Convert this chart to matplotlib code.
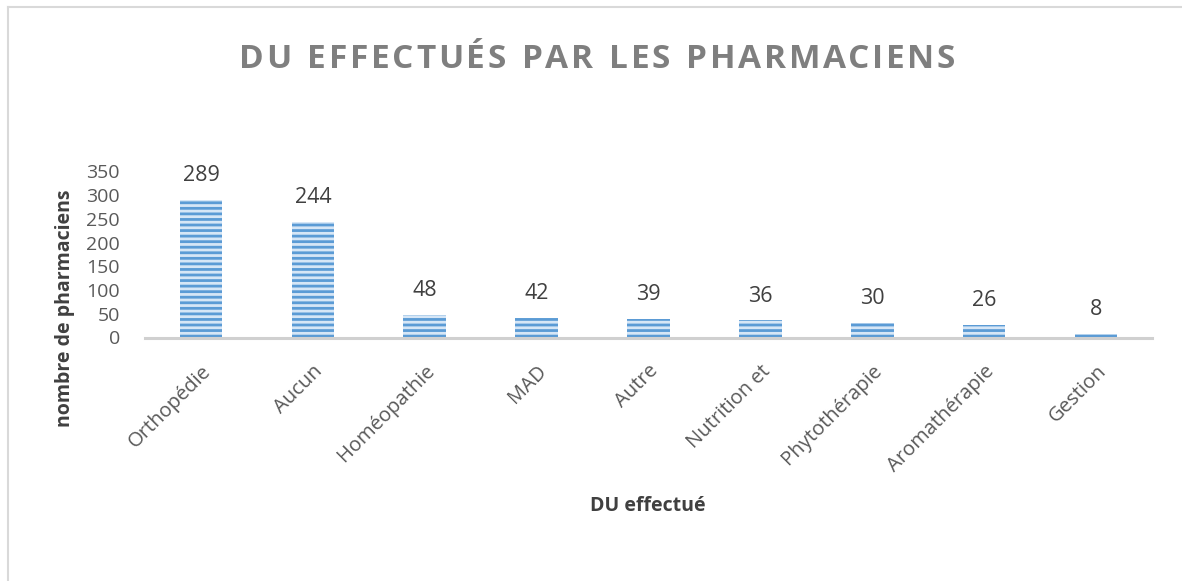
import matplotlib
matplotlib.use("Agg")
import matplotlib.pyplot as plt
from matplotlib.lines import Line2D

categories = ["Orthopédie", "Aucun", "Homéopathie", "MAD", "Autre",
              "Nutrition et", "Phytothérapie", "Aromathérapie", "Gestion"]
values = [289, 244, 48, 42, 39, 36, 30, 26, 8]
yticks = [0, 50, 100, 150, 200, 250, 300, 350]

title = "DU EFFECTUÉS PAR LES PHARMACIENS"
xlabel = "DU effectué"
ylabel = "nombre de pharmaciens"

FONT = ["Open Sans", "DejaVu Sans"]
plt.rcParams["font.family"] = FONT
plt.rcParams["hatch.linewidth"] = 2.0

W, H = 1182, 581
fig = plt.figure(figsize=(W / 100, H / 100), dpi=100)
fig.patch.set_facecolor("white")

left, right = 145 / W, 1152 / W
bottom, top = 1 - 337.5 / H, 1 - 171.4 / H
ax = fig.add_axes([left, bottom, right - left, top - bottom])

x = list(range(len(categories)))
ax.bar(x, values, width=0.38, facecolor="#d6e6f6", edgecolor="#5b9bd5",
       hatch="---", linewidth=0)
ax.set_xlim(-0.5, len(categories) - 0.5)
ax.set_ylim(0, 350)
ax.set_yticks(yticks)
ax.set_yticklabels([str(t) for t in yticks], fontsize=14, color="#595959")
ax.tick_params(axis="y", length=0, pad=18)
ax.set_xticks(x)
ax.set_xticklabels(categories, rotation=45, ha="right", rotation_mode="anchor",
                   fontsize=14.5, color="#595959")
ax.tick_params(axis="x", length=0, pad=17)

for s in ["top", "right", "left"]:
    ax.spines[s].set_visible(False)
ax.spines["bottom"].set_color("#d0d0d0")
ax.spines["bottom"].set_linewidth(2.2)
ax.set_facecolor("none")

for xi, v in zip(x, values):
    ax.annotate(str(v), (xi, v), xytext=(0, 10), textcoords="offset points",
                ha="center", va="bottom", fontsize=15.5, color="#404040")

fig.text(65 / W, 1 - 308 / H, ylabel, rotation=90, ha="center", va="center",
         fontsize=14, fontweight="bold", color="#404040")
fig.text(648 / W, 1 - 506 / H, xlabel, ha="center", va="center",
         fontsize=14, fontweight="bold", color="#404040")

# letter-spaced title
fig.canvas.draw()
renderer = fig.canvas.get_renderer()
tsize = 24
tcolor = "#7f7f7f"
spacing = 2.6  # px between characters
widths = []
for ch in title:
    t = fig.text(0, 0, ch if ch != " " else "n", fontsize=tsize, fontweight="bold")
    bb = t.get_window_extent(renderer)
    w = bb.width if ch != " " else bb.width * 0.5
    widths.append(w)
    t.remove()
total = sum(widths) + spacing * (len(title) - 1)
cx = 597
xpos = cx - total / 2
for ch, w in zip(title, widths):
    if ch != " ":
        fig.text(xpos / W, 1 - 59 / H, ch, fontsize=tsize, fontweight="bold",
                 color=tcolor, ha="left", va="center")
    xpos += w + spacing

# chart border
fig.add_artist(Line2D([7.5 / W, 7.5 / W], [0, 1 - 6.5 / H], color="#d9d9d9", lw=1.5))
fig.add_artist(Line2D([7.5 / W, 1], [1 - 6.5 / H, 1 - 6.5 / H], color="#d9d9d9", lw=1.5))

fig.savefig("out.png", dpi=100, facecolor="white")
